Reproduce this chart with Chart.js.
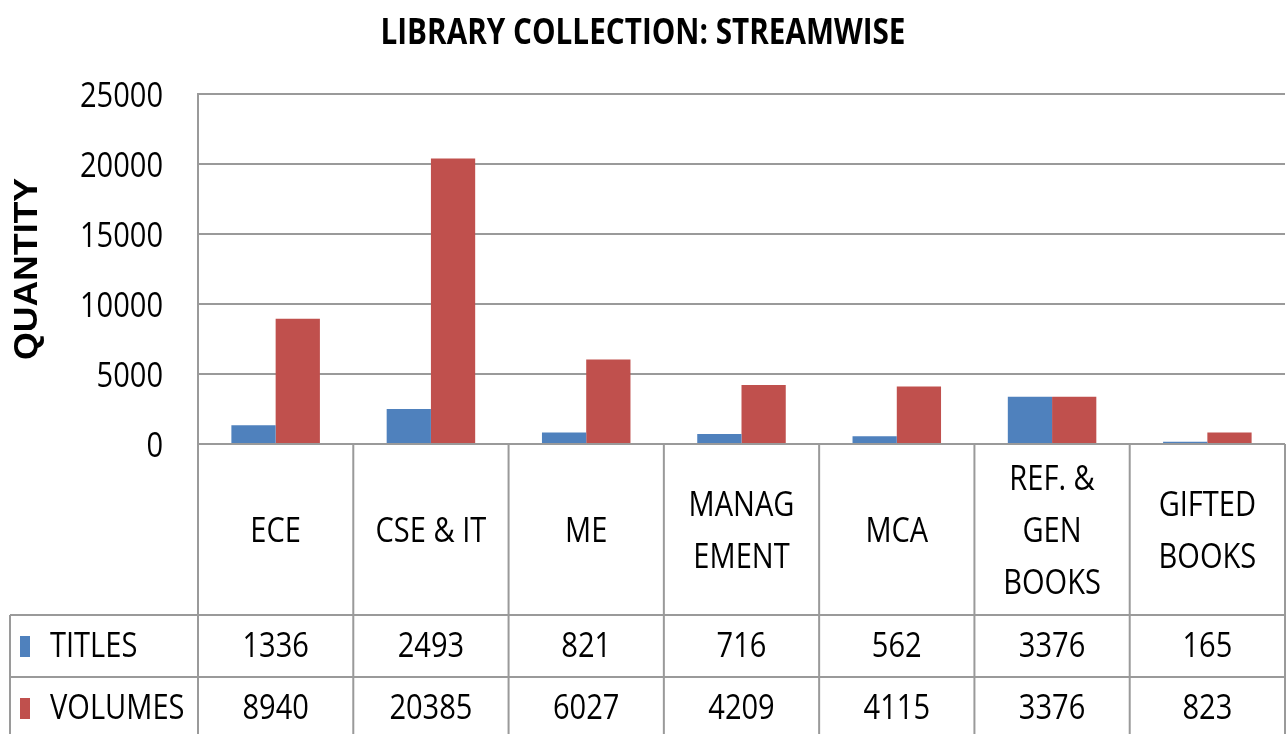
<!DOCTYPE html>
<html>
<head>
<meta charset="utf-8">
<script src="https://cdn.jsdelivr.net/npm/chart.js@4/dist/chart.umd.min.js"></script>
<style>
  html, body { margin: 0; padding: 0; background: #fff; }
  #wrap { width: 1288px; height: 734px; }
</style>
</head>
<body>
<div id="wrap"><canvas id="c" width="1288" height="734"></canvas></div>
<script>
const chartTitle = 'LIBRARY COLLECTION: STREAMWISE';
const yAxisTitle = 'QUANTITY';
const categories = [['ECE'], ['CSE & IT'], ['ME'], ['MANAG', 'EMENT'], ['MCA'], ['REF. &', 'GEN', 'BOOKS'], ['GIFTED', 'BOOKS']];
const seriesNames = ['TITLES', 'VOLUMES'];
const titles = [1336, 2493, 821, 716, 562, 3376, 165];
const volumes = [8940, 20385, 6027, 4209, 4115, 3376, 823];
const yMin = 0, yMax = 25000, yStep = 5000;

const BLUE = '#4F81BD', RED = '#C0504D', LINE = '#9a9a9a';
const FONT = "'Open Sans', 'Noto Sans', sans-serif";
const SX = 0.83; // horizontal squeeze for a Calibri-like look

function squeezed(ctx, text, x, y, sx) {
  ctx.save();
  ctx.translate(x, y);
  ctx.scale(sx, 1);
  ctx.fillText(text, 0, 0);
  ctx.restore();
}

const tablePlugin = {
  id: 'tablePlugin',
  afterDraw(chart) {
    const ctx = chart.ctx;
    const x = chart.scales.x;
    const y = chart.scales.y;
    const area = chart.chartArea;
    const n = categories.length;
    const cw = (x.right - x.left) / n;
    const top = area.bottom;
    const hdrH = 171, rowH = 62;
    const r1 = top + hdrH, r2 = r1 + rowH, r3 = r2 + rowH;
    const leftEdge = 10;
    ctx.save();
    ctx.fillStyle = '#000';
    ctx.textBaseline = 'alphabetic';

    // chart title (squeezed to Calibri-like width)
    ctx.font = "bold 35px " + FONT;
    ctx.textAlign = 'center';
    const tw = ctx.measureText(chartTitle).width;
    squeezed(ctx, chartTitle, 643, 44, 525 / tw);

    // y axis title
    ctx.save();
    ctx.font = "bold 33px 'Liberation Sans', Arial, sans-serif";
    ctx.translate(37, (area.top + area.bottom) / 2);
    ctx.rotate(-Math.PI / 2);
    ctx.scale(1.08, 1);
    ctx.textAlign = 'center';
    ctx.fillText(yAxisTitle, 0, 0);
    ctx.restore();

    // y tick labels from the scale
    ctx.font = "35px " + FONT;
    ctx.textAlign = 'right';
    y.ticks.forEach(t => {
      const py = y.getPixelForValue(t.value);
      squeezed(ctx, String(t.value), area.left - 35, py + 13, SX);
    });

    // table lines
    ctx.strokeStyle = LINE;
    ctx.lineWidth = 2;
    ctx.beginPath();
    for (let i = 0; i <= n; i++) {
      const lx = x.left + i * cw;
      ctx.moveTo(lx, top); ctx.lineTo(lx, r3);
    }
    ctx.moveTo(leftEdge, r1); ctx.lineTo(leftEdge, r3);
    ctx.moveTo(leftEdge, r1); ctx.lineTo(x.right, r1);
    ctx.moveTo(leftEdge, r2); ctx.lineTo(x.right, r2);
    ctx.stroke();

    // header text
    ctx.textAlign = 'center';
    const lh = 52;
    categories.forEach((lines, i) => {
      const cx = x.getPixelForValue(i);
      lines.forEach((t, k) => {
        squeezed(ctx, t, cx, top + 98 + (k - (lines.length - 1) / 2) * lh, SX);
      });
    });

    // data rows
    const rows = [titles, volumes];
    const colors = [BLUE, RED];
    rows.forEach((vals, r) => {
      const base = r1 + rowH * r + 42;
      ctx.textAlign = 'center';
      vals.forEach((v, i) => {
        squeezed(ctx, String(v), x.getPixelForValue(i), base, SX);
      });
      ctx.fillStyle = colors[r];
      ctx.fillRect(20, base - 21, 10, 21);
      ctx.fillStyle = '#000';
      ctx.textAlign = 'left';
      squeezed(ctx, seriesNames[r], 50, base, SX);
    });
    ctx.restore();
  }
};

new Chart(document.getElementById('c'), {
  type: 'bar',
  data: {
    labels: categories,
    datasets: [
      { label: seriesNames[0], data: titles, backgroundColor: BLUE, borderWidth: 0 },
      { label: seriesNames[1], data: volumes, backgroundColor: RED, borderWidth: 0 }
    ]
  },
  options: {
    responsive: false,
    animation: false,
    events: [],
    layout: { padding: { top: 94, bottom: 290, right: 3, left: 0 } },
    plugins: { legend: { display: false }, tooltip: { enabled: false }, title: { display: false } },
    datasets: { bar: { categoryPercentage: 0.57, barPercentage: 1.0 } },
    scales: {
      x: { display: false },
      y: {
        min: yMin, max: yMax,
        ticks: { stepSize: yStep, display: false },
        grid: { color: LINE, lineWidth: 2, drawTicks: false },
        border: { display: true, color: LINE, width: 2 },
        title: { display: false },
        afterFit(scale) { scale.width = 198; }
      }
    }
  },
  plugins: [tablePlugin]
});
</script>
</body>
</html>
